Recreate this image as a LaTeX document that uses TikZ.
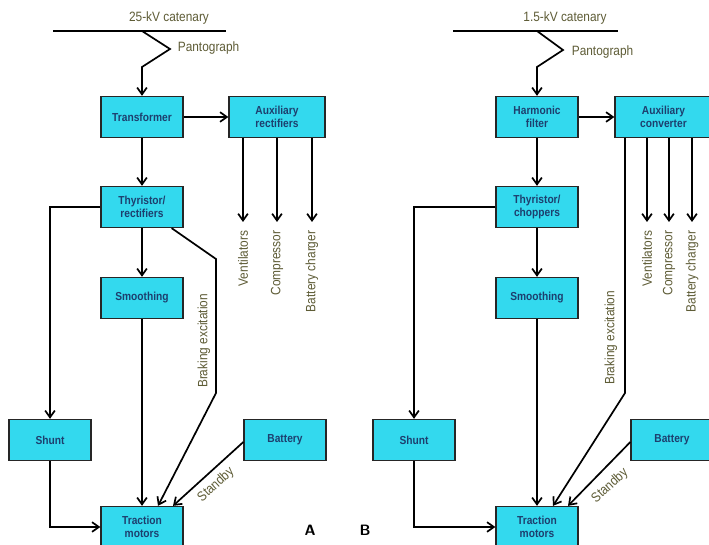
\documentclass[tikz,border=0pt]{standalone}
\usepackage{fontspec}
\setmainfont{Liberation Sans}[FakeStretch=0.88]
\usetikzlibrary{arrows.meta}
\definecolor{boxcyan}{HTML}{33D9EE}
\definecolor{boxtext}{HTML}{1D3F6E}
\definecolor{labelolive}{HTML}{5E5C36}

\begin{document}
\begin{tikzpicture}[x=1pt,y=-1pt,line width=1.7pt,font=\fontsize{13.5}{15}\selectfont,
  box/.style={draw=black!85,line width=1.3pt,fill=boxcyan,minimum width=82pt,minimum height=41pt,align=center,text=boxtext,inner sep=1pt,font=\fontsize{11.6}{13.5}\selectfont\bfseries},
  lbl/.style={text=labelolive,inner sep=1pt},
  feed/.style={-{Straight Barb[length=2.4mm,width=3.4mm]}}]
\clip (0,0) rectangle (709,545);
\fill[white] (0,0) rectangle (709,545);
% A: 25 kV a.c. locomotive
\coordinate (catAw) at (53,31);
\coordinate (catAe) at (226,31);
\draw (catAw)--(catAe);
\node[lbl] (catlblA) at (169,18) {25-kV catenary};
\coordinate (panA0) at (142,31);
\coordinate (panA1) at (170,49);
\coordinate (panA2) at (142,67);
\node[lbl,anchor=west] (panlblA) at (176,48) {Pantograph};
\node[box] (trafoA) at (142,117) {Transformer};
\node[box,minimum width=96pt] (auxA) at (277,117) {Auxiliary\\rectifiers};
\node[box] (thyA) at (142,207) {Thyristor/\\rectifiers};
\node[box] (smoothA) at (142,298) {Smoothing};
\node[box] (shuntA) at (50,440) {Shunt};
\node[box] (battA) at (285,440) {Battery};
\node[box] (tracA) at (142,527) {Traction\\motors};
\draw[feed] (panA0)--(panA1)--(panA2)--(trafoA.north);
\draw[feed] (trafoA)--(auxA);
\draw[feed] (trafoA)--(thyA);
\draw[feed] (thyA)--(smoothA);
\draw[feed] (smoothA)--(tracA);
\draw[feed] (thyA.west)-|(shuntA.north);
\draw[feed] (shuntA.south)|-(tracA.west);
\coordinate (brkA1) at (216,259);
\coordinate (brkA2) at (216,393);
\draw[feed] ([xshift=-12pt]thyA.south east)--(brkA1)--(brkA2)--([xshift=16pt]tracA.north);
\draw[feed] ([yshift=-2pt]battA.west)--([xshift=31pt]tracA.north);
\node[lbl,rotate=90] (brklblA) at (204,341) {Braking excitation};
\node[lbl,rotate=42] (stbylblA) at (216,485) {Standby};
\foreach \x/\name/\txt in {243/ventA/Ventilators,277/compA/Compressor,312/chgA/Battery charger}{
  \coordinate (\name) at (\x,222);
  \draw[feed] (\x,138)--(\name);
  \node[lbl,rotate=90,anchor=east] at (\x,229) {\txt};
}
\node[font=\fontsize{15}{16}\sffamily\bfseries] (labA) at (310,530) {A};
% B: 1.5 kV d.c. locomotive
\coordinate (catBw) at (453,31);
\coordinate (catBe) at (618,31);
\draw (catBw)--(catBe);
\node[lbl] (catlblB) at (565,18) {1.5-kV catenary};
\coordinate (panB0) at (537,31);
\coordinate (panB1) at (563,50);
\coordinate (panB2) at (537,67);
\node[lbl,anchor=west] (panlblB) at (570,52) {Pantograph};
\node[box] (filtB) at (537,117) {Harmonic\\filter};
\node[box,minimum width=97pt] (auxB) at (663.5,117) {Auxiliary\\converter};
\node[box] (thyB) at (537,207) {Thyristor/\\choppers};
\node[box] (smoothB) at (537,298) {Smoothing};
\node[box] (shuntB) at (414,440) {Shunt};
\node[box] (battB) at (672,440) {Battery};
\node[box] (tracB) at (537,527) {Traction\\motors};
\draw[feed] (panB0)--(panB1)--(panB2)--(filtB.north);
\draw[feed] (filtB)--(auxB);
\draw[feed] (filtB)--(thyB);
\draw[feed] (thyB)--(smoothB);
\draw[feed] (smoothB)--(tracB);
\draw[feed] (thyB.west)-|(shuntB.north);
\draw[feed] (shuntB.south)|-(tracB.west);
\coordinate (brkB1) at (625,393);
\draw[feed] (625,138)--(brkB1)--([xshift=16pt]tracB.north);
\draw[feed] ([yshift=-2pt]battB.west)--([xshift=31pt]tracB.north);
\node[lbl,rotate=90] (brklblB) at (611,338) {Braking excitation};
\node[lbl,rotate=42] (stbylblB) at (610,486) {Standby};
\foreach \x/\name/\txt in {647/ventB/Ventilators,669/compB/Compressor,692/chgB/Battery charger}{
  \coordinate (\name) at (\x,222);
  \draw[feed] (\x,138)--(\name);
  \node[lbl,rotate=90,anchor=east] at (\x,229) {\txt};
}
\node[font=\fontsize{15}{16}\sffamily\bfseries] (labB) at (365,530) {B};
\end{tikzpicture}
\end{document}
